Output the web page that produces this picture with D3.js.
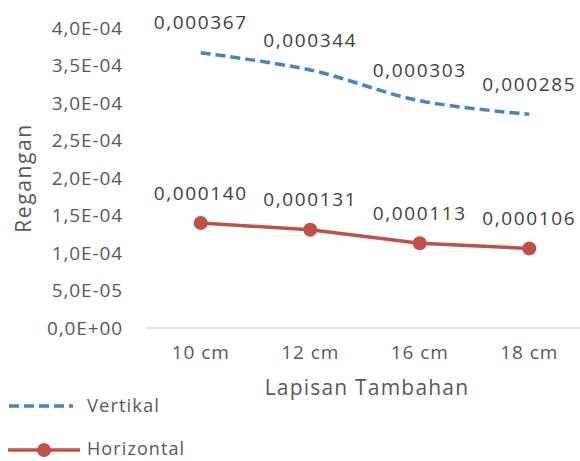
<!DOCTYPE html>
<html><head><meta charset="utf-8">
<script src="https://cdn.jsdelivr.net/npm/d3@7"></script>
<style>body{margin:0;background:#fff}svg{display:block}text{font-family:"Open Sans",sans-serif}</style>
</head><body>
<script>
const categories = ["10 cm", "12 cm", "16 cm", "18 cm"];
const vertikal = [0.000367, 0.000344, 0.000303, 0.000285];
const horizontal = [0.000140, 0.000131, 0.000113, 0.000106];
const yTicks = [0, 0.00005, 0.0001, 0.00015, 0.0002, 0.00025, 0.0003, 0.00035, 0.0004];
const yTickLabels = ["0,0E+00","5,0E-05","1,0E-04","1,5E-04","2,0E-04","2,5E-04","3,0E-04","3,5E-04","4,0E-04"];

const W = 580, H = 461;
const svg = d3.select("body").append("svg").attr("width", W).attr("height", H);
const x = d3.scaleBand().domain(categories).range([146, 584]);
const y = d3.scaleLinear().domain([0, 0.0004]).range([328, 28]);
const cx = d => x(d) + x.bandwidth() / 2;
const fmt = v => d3.format(".6f")(v).replace(".", ",");

// x axis line
svg.append("line").attr("x1", 146).attr("x2", 584).attr("y1", y(0)).attr("y2", y(0))
  .attr("stroke", "#d9d9d9").attr("stroke-width", 1.5);

// y tick labels
svg.append("g").selectAll("text").data(yTicks).join("text")
  .attr("x", 123).attr("y", d => y(d)).attr("dy", "0.35em").attr("text-anchor", "end")
  .attr("font-size", 19).attr("letter-spacing", 0.9).attr("fill", "#595959")
  .text((d, i) => yTickLabels[i]);

// x tick labels
svg.append("g").selectAll("text").data(categories).join("text")
  .attr("x", d => cx(d)).attr("y", 352).attr("dy", "0.35em").attr("text-anchor", "middle")
  .attr("font-size", 19).attr("letter-spacing", 0.9).attr("fill", "#595959").text(d => d);

// axis titles
svg.append("text").attr("x", 367).attr("y", 388).attr("dy", "0.35em").attr("text-anchor", "middle")
  .attr("font-size", 21).attr("letter-spacing", 1.2).attr("fill", "#595959").text("Lapisan Tambahan");
svg.append("text").attr("transform", "translate(24,178) rotate(-90)").attr("dy", "0.35em")
  .attr("text-anchor", "middle").attr("font-size", 21).attr("letter-spacing", 1.6)
  .attr("fill", "#595959").text("Regangan");

const blue = "#4f81bd", red = "#c0504d";

// Vertikal (smoothed dashed)
const lineSmooth = d3.line().x((d, i) => cx(categories[i])).y(d => y(d)).curve(d3.curveCatmullRom.alpha(0.5));
svg.append("path").attr("d", lineSmooth(vertikal)).attr("fill", "none")
  .attr("stroke", blue).attr("stroke-width", 3.5).attr("stroke-dasharray", "10,5");

// Horizontal
const line = d3.line().x((d, i) => cx(categories[i])).y(d => y(d));
svg.append("path").attr("d", line(horizontal)).attr("fill", "none")
  .attr("stroke", red).attr("stroke-width", 3.5);
svg.append("g").selectAll("circle").data(horizontal).join("circle")
  .attr("cx", (d, i) => cx(categories[i])).attr("cy", d => y(d)).attr("r", 7).attr("fill", red);

// data labels
function labels(data) {
  svg.append("g").selectAll("text").data(data).join("text")
    .attr("x", (d, i) => cx(categories[i])).attr("y", d => y(d) - 30).attr("dy", "0.35em")
    .attr("text-anchor", "middle").attr("font-size", 19).attr("letter-spacing", 1.6)
    .attr("fill", "#404040").text(d => fmt(d));
}
labels(vertikal);
labels(horizontal);

// legend
svg.append("line").attr("x1", 9).attr("x2", 73).attr("y1", 406).attr("y2", 406)
  .attr("stroke", blue).attr("stroke-width", 3.5).attr("stroke-dasharray", "10,5");
svg.append("text").attr("x", 87).attr("y", 406).attr("dy", "0.35em").attr("font-size", 18.5)
  .attr("letter-spacing", 1).attr("fill", "#595959").text("Vertikal");
svg.append("line").attr("x1", 8).attr("x2", 80).attr("y1", 450).attr("y2", 450)
  .attr("stroke", red).attr("stroke-width", 3.5);
svg.append("circle").attr("cx", 44).attr("cy", 450).attr("r", 7).attr("fill", red);
svg.append("text").attr("x", 87).attr("y", 448.5).attr("dy", "0.35em").attr("font-size", 18)
  .attr("letter-spacing", 1.1).attr("fill", "#595959").text("Horizontal");
</script>
</body></html>
